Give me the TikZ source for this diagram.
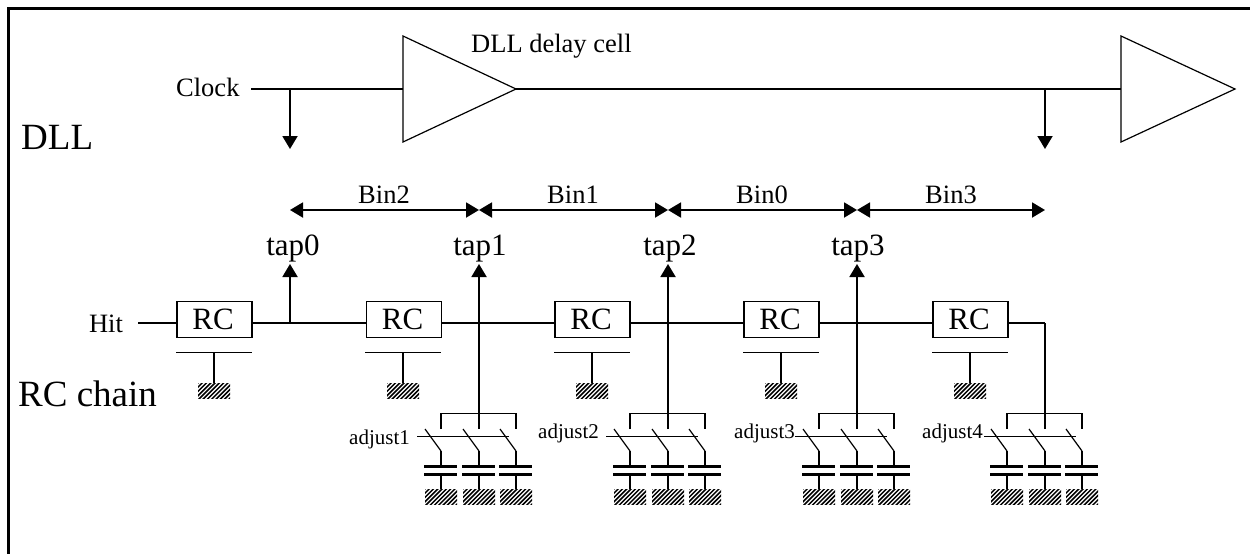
\documentclass[tikz,border=0pt]{standalone}
\usepackage{fontspec}
\setmainfont{Liberation Serif}
\usetikzlibrary{arrows.meta}
\tikzset{
  wire/.style={line width=1.9pt},
  thin wire/.style={line width=1.2pt},
  arr/.style={wire,-{Triangle[length=13pt,width=15pt]}},
  darr/.style={wire,{Triangle[length=13pt,width=15pt]}-{Triangle[length=13pt,width=15pt]}},
  rcbox/.style={draw,line width=1.9pt,minimum width=75pt,minimum height=36pt,inner sep=0pt,font=\fontsize{31}{31}\selectfont,fill=white},
  big/.style={font=\fontsize{37}{37}\selectfont,inner sep=0pt},
  tap/.style={font=\fontsize{31}{31}\selectfont,inner sep=0pt},
  small/.style={font=\fontsize{26.5}{26.5}\selectfont,inner sep=0pt},
  adj/.style={font=\fontsize{21}{21}\selectfont,inner sep=0pt},
}
\newcommand{\hatchbox}[3]{% x, y, width
  \begin{scope}
    \clip (#1,#2) rectangle ++(#3,15.5);
    \foreach \k in {-5,...,8}{
      \draw[line width=1.5pt] ({#1+\k*4.3},{#2+17}) -- ++(19,-19);
    }
  \end{scope}
}
\begin{document}
\begin{tikzpicture}[x=1pt,y=-1pt]
\useasboundingbox (0,0) rectangle (1250,554);
% frame
\coordinate (fbl) at (8.5,554); \coordinate (ftl) at (8.5,8.5); \coordinate (ftr) at (1250,8.5);
\draw[line width=3pt] (fbl) -- (ftl) -- (ftr);
% labels
\node[big,anchor=base west] (dll) at (21,149) {DLL};
\node[big,anchor=base west] (rcchain) at (18,406) {RC chain};
\node[small,anchor=base west] (clk) at (176,96) {Clock};
\node[small,anchor=base west] (cell) at (471,52) {DLL delay cell};
\node[small,anchor=base] (hit) at (106,332) {Hit};
% DLL buffers
\coordinate (b1a) at (403,36); \coordinate (b1b) at (403,142); \coordinate (b1o) at (516,89); \coordinate (b1i) at (403,89);
\coordinate (b2a) at (1121,36); \coordinate (b2b) at (1121,142); \coordinate (b2o) at (1235,89); \coordinate (b2i) at (1121,89);
\draw[thin wire,line join=miter] (b1a) -- (b1o) -- (b1b) -- cycle;
\draw[thin wire,line join=miter] (b2a) -- (b2o) -- (b2b) -- cycle;
\coordinate (cs) at (251,89);
\coordinate (t0) at (290,89); \coordinate (t4) at (1045,89);
\coordinate (t0e) at (290,149); \coordinate (t4e) at (1045,149);
\draw[wire] (cs) -- (b1i);
\draw[wire] (b1o) -- (b2i);
\draw[arr] (t0) -- (t0e);
\draw[arr] (t4) -- (t4e);
% bins
\coordinate (m0) at (290,210); \coordinate (m1) at (479,210); \coordinate (m2) at (668,210); \coordinate (m3) at (857,210); \coordinate (m4) at (1045,210);
\draw[darr] (m0) -- (m1);
\draw[darr] (m1) -- (m2);
\draw[darr] (m2) -- (m3);
\draw[darr] (m3) -- (m4);
\node[small,anchor=base] (bin2) at (384,203) {Bin2};
\node[small,anchor=base] (bin1) at (573,203) {Bin1};
\node[small,anchor=base] (bin0) at (762,203) {Bin0};
\node[small,anchor=base] (bin3) at (951,203) {Bin3};
% taps
\node[tap,anchor=base] (tap0) at (293,255) {tap0};
\node[tap,anchor=base] (tap1) at (480,255) {tap1};
\node[tap,anchor=base] (tap2) at (670,255.5) {tap2};
\node[tap,anchor=base] (tap3) at (858,255.5) {tap3};
% RC chain
\coordinate (hs) at (138,323);
\node[rcbox] (rc0) at (214.5,319.5) {RC\kern3pt};
\node[rcbox] (rc1) at (404,319.5) {RC\kern3pt};
\node[rcbox] (rc2) at (592.5,319.5) {RC\kern3pt};
\node[rcbox] (rc3) at (781.5,319.5) {RC\kern3pt};
\node[rcbox] (rc4) at (970.5,319.5) {RC\kern3pt};
\coordinate (j0) at (290,323); \coordinate (j1) at (479,323); \coordinate (j2) at (668,323); \coordinate (j3) at (857,323); \coordinate (j4) at (1045,323);
\draw[wire] (hs) -- (rc0.west |- hs);
\draw[wire] (rc0.east |- hs) -- (rc1.west |- hs);
\draw[wire] (rc1.east |- hs) -- (rc2.west |- hs);
\draw[wire] (rc2.east |- hs) -- (rc3.west |- hs);
\draw[wire] (rc3.east |- hs) -- (rc4.west |- hs);
\draw[wire] (rc4.east |- hs) -- (j4);
\draw[arr] (j0) -- (290,264);
\draw[arr] (j1) -- (479,264);
\draw[arr] (j2) -- (668,264);
\draw[arr] (j3) -- (857,264);
% RC grounds
\foreach \cx in {214,403,592,781,970}{
  \draw[wire] ({\cx-38},352.5) -- ({\cx+38},352.5);
  \draw[wire] (\cx,352.5) -- (\cx,383);
  \hatchbox{\cx-16}{383}{32}
}
% switch banks
\foreach \cx/\lab/\labx/\laby/\ls in {479/adjust1/349/444/417,668/adjust2/538/438/606,857/adjust3/734/438/795,1045/adjust4/922/438/984}{
  \draw[wire] ({\cx-38},429) -- ({\cx-38},413.5) -- ({\cx+37},413.5) -- ({\cx+37},429);
  \draw[wire] (\cx,429) -- (\cx,323);
  \draw[wire] (\ls,436.5) -- ({\ls+92},436.5);
  \node[adj,anchor=base west] at (\labx,\laby) {\lab};
  \foreach \d in {-38,0,37}{
    \draw[line width=1.2pt] ({\cx+\d-16},429) -- ({\cx+\d},451);
    \draw[wire] ({\cx+\d},451) -- ({\cx+\d},466);
    \draw[line width=3pt] ({\cx+\d-17},466) -- ({\cx+\d+16},466);
    \draw[line width=3pt] ({\cx+\d-17},474) -- ({\cx+\d+16},474);
    \draw[wire] ({\cx+\d},474) -- ({\cx+\d},489);
    \hatchbox{\cx+\d-16}{489}{32}
  }
}
\end{tikzpicture}
\end{document}
